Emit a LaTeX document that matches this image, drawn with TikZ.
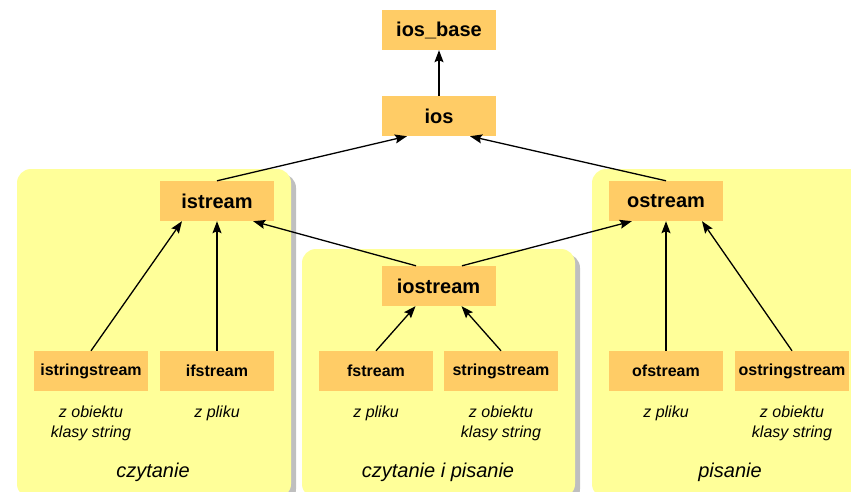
\documentclass[tikz,border=0pt]{standalone}
\usepackage{fontspec}
\setmainfont{Liberation Sans}
\usetikzlibrary{arrows.meta}
\definecolor{boxfill}{HTML}{FFCC66}
\definecolor{panelfill}{HTML}{FFFF99}
\definecolor{shadowgrey}{HTML}{BFBFBF}
\tikzset{
  bigbox/.style={fill=boxfill, minimum width=114pt, minimum height=40pt, inner sep=0pt, font=\fontsize{20}{24}\selectfont\bfseries},
  smallbox/.style={fill=boxfill, minimum width=114pt, minimum height=40pt, inner sep=0pt, font=\fontsize{16}{19}\selectfont\bfseries},
  note/.style={align=center, inner sep=0pt, font=\fontsize{16}{20}\selectfont\itshape},
  title/.style={inner sep=0pt, font=\fontsize{20}{24}\selectfont\itshape},
  panel/.style={fill=panelfill, rounded corners=14pt},
  shadow/.style={fill=shadowgrey, rounded corners=14pt},
  arr/.style={line width=1.3pt, -{Stealth[length=12pt,width=9pt,inset=2pt]}}
}
\begin{document}
\begin{tikzpicture}[x=1pt,y=-1pt]
\useasboundingbox (0,0) rectangle (851,492);
\clip (0,0) rectangle (851,492);
% panels
\fill[shadow] (22,174) rectangle (296,503);
\fill[panel] (17,169) rectangle (291,498);
\fill[shadow] (307,254) rectangle (580,503);
\fill[panel] (302,249) rectangle (575,498);
\fill[shadow] (597,174) rectangle (870,503);
\fill[panel] (592,169) rectangle (865,498);
% boxes
\node[bigbox] (iosbase) at (439,30) {ios\_base};
\node[bigbox] (ios) at (439,116) {ios};
\node[bigbox] (istream) at (217,201) {istream};
\node[bigbox] (ostream) at (666,201) {ostream};
\node[bigbox] (iostream) at (438.5,286) {iostream};
\node[smallbox] (istringstream) at (91,371) {istringstream};
\node[smallbox] (ifstream) at (217,371) {ifstream};
\node[smallbox] (fstream) at (376,371) {fstream};
\node[smallbox] (stringstream) at (501,371) {stringstream};
\node[smallbox] (ofstream) at (666,371) {ofstream};
\node[smallbox] (ostringstream) at (792,371) {ostringstream};
% notes
\node[note] (n1) at (91,423) {z obiektu\\klasy string};
\node[note] (n2) at (217,413) {z pliku};
\node[note] (n3) at (376,413) {z pliku};
\node[note] (n4) at (501,423) {z obiektu\\klasy string};
\node[note] (n5) at (666,413) {z pliku};
\node[note] (n6) at (792,423) {z obiektu\\klasy string};
\node[title] (t1) at (153,472) {czytanie};
\node[title] (t2) at (438,472) {czytanie i pisanie};
\node[title] (t3) at (730,472) {pisanie};
% arrows
\draw[arr] (ios.north) -- (iosbase.south);
\draw[arr] (istream.north) -- ([xshift=-32pt]ios.south);
\draw[arr] (ostream.north) -- ([xshift=31pt]ios.south);
\draw[arr] ([xshift=-22.5pt]iostream.north) -- ([xshift=-21pt]istream.south east);
\draw[arr] ([xshift=23.5pt]iostream.north) -- ([xshift=23pt]ostream.south west);
\draw[arr] (istringstream.north) -- ([xshift=-35pt]istream.south);
\draw[arr] (ifstream.north) -- (istream.south);
\draw[arr] (fstream.north) -- ([xshift=-23pt]iostream.south);
\draw[arr] (stringstream.north) -- ([xshift=23pt]iostream.south);
\draw[arr] (ofstream.north) -- (ostream.south);
\draw[arr] (ostringstream.north) -- ([xshift=36pt]ostream.south);
\end{tikzpicture}
\end{document}
